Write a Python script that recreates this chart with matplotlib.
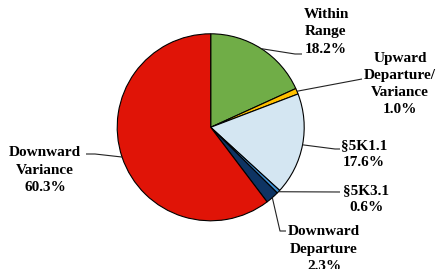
import numpy as np
import matplotlib
matplotlib.use('Agg')
import matplotlib.pyplot as plt

# slice data, clockwise from 12 o'clock
labels = ['Within\nRange', 'Upward\nDeparture/\nVariance', '\u00a75K1.1', '\u00a75K3.1',
          'Downward\nDeparture', 'Downward\nVariance']
values = [18.2, 1.0, 17.6, 0.6, 2.3, 60.3]
colors = ['#70ad47', '#ffc000', '#d4e6f2', '#3f8fd2', '#0e3463', '#e01407']

W, H = 441, 269

# label text centres and leader elbow points (pixels from top-left)
text_pos = [(326, 32), (400, 84), (364, 154), (366, 199), (324, 249), (45, 170)]
elbows = [[(295, 54), (302, 54)],
          [(362, 79)],
          [(335, 149), (340, 149)],
          [(340, 192)],
          [(280, 231), (286, 231)],
          [(95, 154), (86, 154)]]

cx, cy, rad = 210.7, 127.3, 93.5

fig = plt.figure(figsize=(W / 100, H / 100), dpi=100)
ax = fig.add_axes([0, 0, 1, 1])

wedges, _ = ax.pie(values, colors=colors, startangle=90, counterclock=False,
                   center=(cx, H - cy), radius=rad,
                   wedgeprops=dict(edgecolor='black', linewidth=0.8))

ax.set_xlim(0, W)
ax.set_ylim(0, H)
ax.set_aspect('auto')
ax.axis('off')

for i, w in enumerate(wedges):
    mid = np.deg2rad((w.theta1 + w.theta2) / 2)
    x0 = cx + rad * np.cos(mid)
    y0 = (H - cy) + rad * np.sin(mid)
    xs = [x0] + [p[0] for p in elbows[i]]
    ys = [y0] + [H - p[1] for p in elbows[i]]
    ax.plot(xs, ys, color='#222222', linewidth=0.8, solid_capstyle='butt')
    tx, ty = text_pos[i]
    ax.text(tx, H - ty, labels[i] + '\n' + '{:.1f}%'.format(values[i]),
            ha='center', va='center', fontsize=11, fontweight='bold',
            family='Liberation Serif', linespacing=1.42)

fig.savefig('out.png', dpi=100)
